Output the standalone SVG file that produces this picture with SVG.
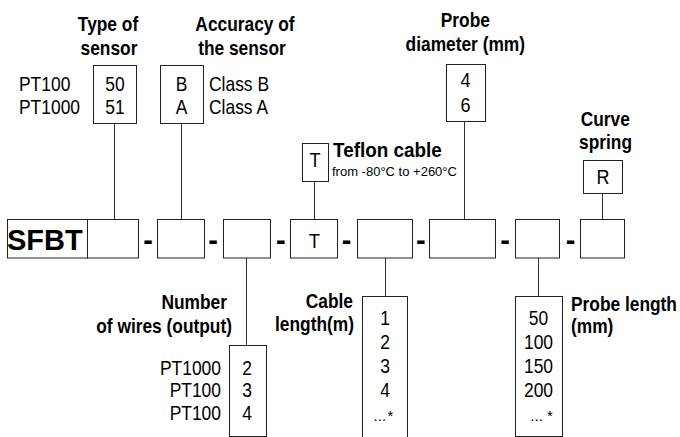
<svg xmlns="http://www.w3.org/2000/svg" width="680" height="437" viewBox="0 0 680 437">
<style>
.bx{fill:#fff;stroke:#222;stroke-width:1}
.ln{stroke:#333;stroke-width:1;fill:none}
.b{font-family:"Liberation Sans",Arial,sans-serif;font-weight:bold;font-size:19.5px;fill:#000}
.r{font-family:"Liberation Sans",Arial,sans-serif;font-size:20.5px;fill:#000}
.s{font-family:"Liberation Sans",Arial,sans-serif;font-size:13px;fill:#000}
.dt{font-family:"Liberation Sans",Arial,sans-serif;font-size:15px;fill:#000}
.m{text-anchor:middle}
.e{text-anchor:end}
.d{font-family:"Liberation Sans",Arial,sans-serif;font-weight:bold;font-size:29px;fill:#000;text-anchor:middle}
</style>
<rect width="680" height="437" fill="#fff"/>

<g id="connectors">
<line class="ln" x1="114.5" y1="123.5" x2="114.5" y2="219"/>
<line class="ln" x1="181.5" y1="123.5" x2="181.5" y2="219"/>
<line class="ln" x1="314.5" y1="181.5" x2="314.5" y2="219"/>
<line class="ln" x1="464.5" y1="121" x2="464.5" y2="219"/>
<line class="ln" x1="602.5" y1="193" x2="602.5" y2="219"/>
<line class="ln" x1="246.5" y1="258" x2="246.5" y2="345.5"/>
<line class="ln" x1="385.5" y1="258" x2="385.5" y2="296.5"/>
<line class="ln" x1="538.5" y1="258" x2="538.5" y2="296.5"/>
</g>

<g id="code-row">
<rect class="bx" x="7.5" y="219.5" width="80" height="38.5"/>
<text x="7" y="250" font-family="Liberation Sans,Arial,sans-serif" font-weight="bold" font-size="29">SFBT</text>
<rect class="bx" x="87.5" y="219.5" width="51" height="38.5"/>
<text class="d" x="148" y="250">-</text>
<rect class="bx" x="157.5" y="219.5" width="47" height="38.5"/>
<text class="d" x="213.2" y="250">-</text>
<rect class="bx" x="223.5" y="219.5" width="47" height="38.5"/>
<text class="d" x="280.8" y="250">-</text>
<rect class="bx" x="290.5" y="219.5" width="47" height="38.5"/>
<text class="r m" transform="translate(314.3,248) scale(0.9,1)">T</text>
<text class="d" x="346.5" y="250">-</text>
<rect class="bx" x="357.5" y="219.5" width="55" height="38.5"/>
<text class="d" x="420.8" y="250">-</text>
<rect class="bx" x="429.5" y="219.5" width="66" height="38.5"/>
<text class="d" x="505.2" y="250">-</text>
<rect class="bx" x="515.5" y="219.5" width="44" height="38.5"/>
<text class="d" x="570.7" y="250">-</text>
<rect class="bx" x="580.5" y="219.5" width="44" height="38.5"/>
</g>

<g id="type-of-sensor">
<text class="b m" transform="translate(108,31) scale(0.89,1)">Type of</text>
<text class="b m" transform="translate(109,55) scale(0.89,1)">sensor</text>
<rect class="bx" x="93.5" y="65.5" width="43" height="58"/>
<text class="r m" transform="translate(115,91) scale(0.85,1)">50</text>
<text class="r m" transform="translate(115,114) scale(0.85,1)">51</text>
<text class="r" transform="translate(19,91) scale(0.85,1)">PT100</text>
<text class="r" transform="translate(19,114) scale(0.85,1)">PT1000</text>
</g>

<g id="accuracy">
<text class="b m" transform="translate(245,31) scale(0.89,1)">Accuracy of</text>
<text class="b m" transform="translate(242,55) scale(0.89,1)">the sensor</text>
<rect class="bx" x="160.5" y="65.5" width="43" height="58"/>
<text class="r m" transform="translate(181.5,91) scale(0.85,1)">B</text>
<text class="r m" transform="translate(181.5,114) scale(0.85,1)">A</text>
<text class="r" transform="translate(209,91) scale(0.85,1)">Class B</text>
<text class="r" transform="translate(209,114) scale(0.85,1)">Class A</text>
</g>

<g id="teflon-cable">
<rect class="bx" x="302.5" y="143.5" width="26" height="38"/>
<text class="r m" transform="translate(315,167) scale(0.88,1)">T</text>
<text class="b" transform="translate(333,157) scale(0.97,1)" font-size="18">Teflon cable</text>
<text class="s" x="332" y="176">from -80°C to +260°C</text>
</g>

<g id="probe-diameter">
<text class="b m" transform="translate(465.3,27) scale(0.89,1)">Probe</text>
<text class="b m" transform="translate(465.3,51) scale(0.89,1)">diameter (mm)</text>
<rect class="bx" x="446.5" y="64.5" width="39" height="57"/>
<text class="r m" transform="translate(465.5,87) scale(0.88,1)" font-size="19.5">4</text>
<text class="r m" transform="translate(465.5,112) scale(0.88,1)" font-size="19.5">6</text>
</g>

<g id="curve-spring">
<text class="b m" transform="translate(605.3,126) scale(0.89,1)">Curve</text>
<text class="b m" transform="translate(605.5,149) scale(0.89,1)">spring</text>
<rect class="bx" x="583.5" y="160.5" width="39" height="33"/>
<text class="r m" transform="translate(603,184) scale(0.88,1)">R</text>
</g>

<g id="number-of-wires">
<text class="b e" transform="translate(227,309) scale(0.89,1)">Number</text>
<text class="b e" transform="translate(232,333) scale(0.89,1)">of wires (output)</text>
<rect class="bx" x="229.5" y="345.5" width="37" height="91"/>
<text class="r m" transform="translate(247,375) scale(0.85,1)">2</text>
<text class="r m" transform="translate(247,397) scale(0.85,1)">3</text>
<text class="r m" transform="translate(247,420) scale(0.85,1)">4</text>
<text class="r e" transform="translate(221,375) scale(0.85,1)">PT1000</text>
<text class="r e" transform="translate(221,397) scale(0.85,1)">PT100</text>
<text class="r e" transform="translate(221,420) scale(0.85,1)">PT100</text>
</g>

<g id="cable-length">
<text class="b e" transform="translate(353,308) scale(0.89,1)">Cable</text>
<text class="b e" transform="translate(354,331) scale(0.89,1)">length(m)</text>
<rect class="bx" x="362.5" y="296.5" width="45" height="150"/>
<text class="r m" transform="translate(385,325) scale(0.85,1)">1</text>
<text class="r m" transform="translate(385,349) scale(0.85,1)">2</text>
<text class="r m" transform="translate(385,373) scale(0.85,1)">3</text>
<text class="r m" transform="translate(385,397) scale(0.85,1)">4</text>
<text class="dt" x="373.6" y="421">...<tspan dx="1.3">*</tspan></text>
</g>

<g id="probe-length">
<rect class="bx" x="515.5" y="296.5" width="47" height="140"/>
<text class="r m" transform="translate(538.5,325) scale(0.85,1)">50</text>
<text class="r m" transform="translate(538.5,349) scale(0.85,1)">100</text>
<text class="r m" transform="translate(538.5,373) scale(0.85,1)">150</text>
<text class="r m" transform="translate(538.5,397) scale(0.85,1)">200</text>
<text class="dt" x="530.3" y="421">...<tspan dx="4.3">*</tspan></text>
<text class="b" transform="translate(571,311) scale(0.89,1)">Probe length</text>
<text class="b" transform="translate(571,333) scale(0.89,1)">(mm)</text>
</g>
</svg>
